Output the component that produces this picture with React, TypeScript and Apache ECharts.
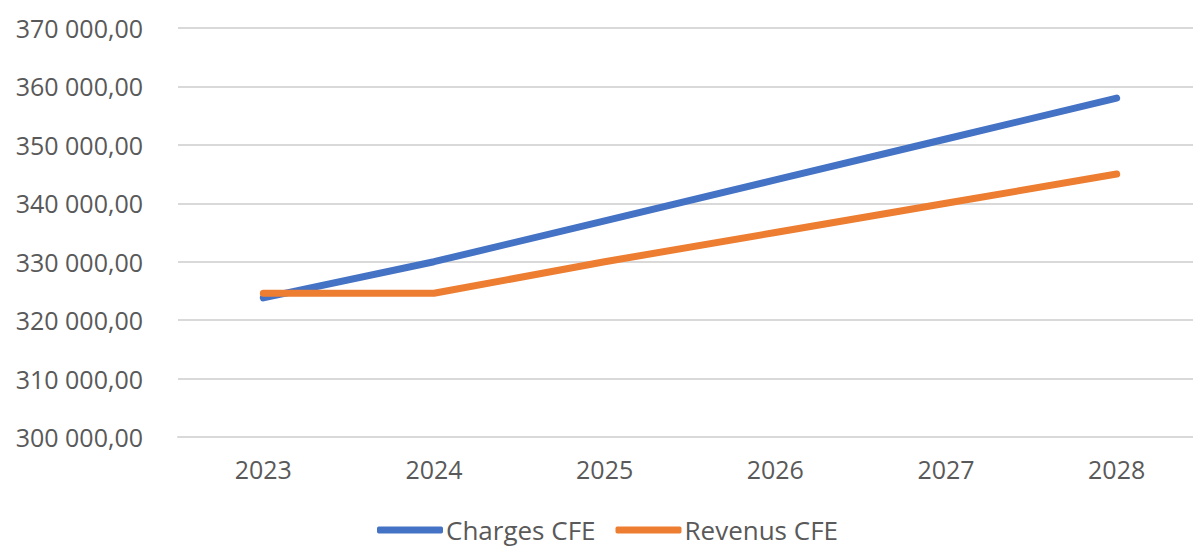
import React, { useEffect, useRef } from "react";
import * as echarts from "echarts";

const years = ["2023", "2024", "2025", "2026", "2027", "2028"];
const chargesCFE = [323800, 330000, 337000, 344000, 351000, 358000];
const revenusCFE = [324600, 324600, 330000, 335000, 340000, 345000];

const fmt = (v: number) => {
  const s = Math.round(v).toString().replace(/\B(?=(\d{3})+(?!\d))/g, " ");
  return s + ",00";
};

export default function App() {
  const ref = useRef<HTMLDivElement>(null);
  useEffect(() => {
    const chart = echarts.init(ref.current!, null, { renderer: "svg" });
    const font = "'Open Sans', 'Noto Sans', sans-serif";
    chart.setOption({
      animation: false,
      backgroundColor: "#ffffff",
      grid: { left: 178, top: 28, width: 1024, height: 409 },
      legend: {
        data: ["Charges CFE", "Revenus CFE"],
        left: 372,
        top: 512,
        icon: "roundRect",
        itemWidth: 66,
        itemHeight: 7,
        itemGap: 20,
        textStyle: { fontFamily: font, fontSize: 26, color: "#595959", padding: [0, 0, 0, -2] },
      },
      xAxis: {
        type: "category",
        data: years,
        boundaryGap: true,
        axisLine: { show: true, lineStyle: { color: "#d9d9d9", width: 2 } },
        axisTick: { show: false },
        axisLabel: { fontFamily: font, fontSize: 25, color: "#595959", margin: 19 },
      },
      yAxis: {
        type: "value",
        min: 300000,
        max: 370000,
        interval: 10000,
        axisLine: { show: false },
        axisTick: { show: false },
        splitLine: { lineStyle: { color: "#d9d9d9", width: 2 } },
        axisLabel: {
          fontFamily: font,
          fontSize: 25,
          color: "#595959",
          margin: 35,
          formatter: (v: number) => fmt(v),
        },
      },
      series: [
        {
          name: "Charges CFE",
          type: "line",
          data: chargesCFE,
          symbol: "none",
          itemStyle: { color: "#4472C4" },
          lineStyle: { color: "#4472C4", width: 7, cap: "round", join: "round" },
        },
        {
          name: "Revenus CFE",
          type: "line",
          data: revenusCFE,
          symbol: "none",
          itemStyle: { color: "#ED7D31" },
          lineStyle: { color: "#ED7D31", width: 7, cap: "round", join: "round" },
        },
      ],
    });
    return () => chart.dispose();
  }, []);
  return (
    <div style={{ position: "fixed", left: 0, top: 0, width: 1193, height: 551, overflow: "hidden", background: "#fff" }}>
      <div ref={ref} style={{ width: 1210, height: 551 }} />
    </div>
  );
}
